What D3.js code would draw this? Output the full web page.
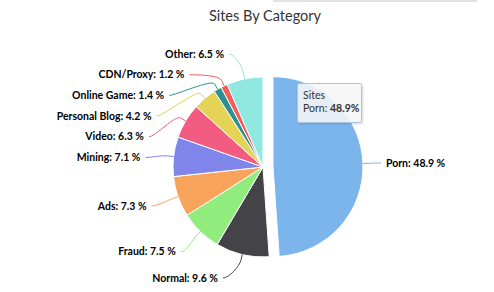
<!DOCTYPE html>
<html>
<head>
<meta charset="utf-8">
<script src="https://cdn.jsdelivr.net/npm/d3@7"></script>
<style>
html,body{margin:0;padding:0;background:#fff;}
svg{display:block;}
</style>
</head>
<body>
<svg id="chart" width="494" height="292"></svg>
<script>
const categories = ["Porn","Normal","Fraud","Ads","Mining","Video","Personal Blog","Online Game","CDN/Proxy","Other"];
const values = [48.9, 9.6, 7.5, 7.3, 7.1, 6.3, 4.2, 1.4, 1.2, 6.5];
const colors = ["#7cb5ec","#434348","#90ed7d","#f7a35c","#8085e9","#f15c80","#e4d354","#2b908f","#f45b5b","#91e8e1"];
const slicedCategory = "Porn";
const seriesName = "Sites";
const title = "Sites By Category";

const W = 494, H = 292;
const cx = 263, cy = 167, r = 90, sliceOffset = 10;
const labelR = 118, labelSpacing = 20.7, labelTop = 54, labelBottom = 278;
const FONT = "Lato, 'Open Sans', sans-serif";

const svg = d3.select("#chart");

// top grey strip
svg.append("line").attr("x1",273).attr("x2",477).attr("y1",1).attr("y2",1)
  .attr("stroke","#e2e2e2").attr("stroke-width",2);

svg.append("text").attr("x",265).attr("y",21).attr("text-anchor","middle")
  .attr("font-family",FONT).attr("font-size",14.5).attr("fill","#333333")
  .text(title);

const data = categories.map((c,i)=>({name:c, value:values[i], color:colors[i]}));
const pie = d3.pie().value(d=>d.value).sort(null).startAngle(0).endAngle(2*Math.PI);
const arcs = pie(data);
const arc = d3.arc().innerRadius(0).outerRadius(r);

function offsetOf(a){
  if (a.data.name !== slicedCategory) return [0,0];
  const m = (a.startAngle + a.endAngle)/2;
  return [sliceOffset*Math.sin(m), -sliceOffset*Math.cos(m)];
}

const g = svg.append("g").attr("transform",`translate(${cx},${cy})`);
g.selectAll("path.slice").data(arcs).enter().append("path")
  .attr("class","slice")
  .attr("d",arc)
  .attr("transform",a=>{const o=offsetOf(a);return `translate(${o[0]},${o[1]})`;})
  .attr("fill",a=>a.data.color)
  .attr("stroke","#ffffff").attr("stroke-width",1).attr("stroke-linejoin","round");

// label layout
const labels = arcs.map(a=>{
  const m = (a.startAngle + a.endAngle)/2;
  return {a, m, right: Math.sin(m) >= 0, y: cy - labelR*Math.cos(m)};
});
["left","right"].forEach(side=>{
  const L = labels.filter(l => (side==="right") === l.right).sort((p,q)=>p.y-q.y);
  for (let i=0;i<L.length;i++){
    let y = Math.max(L[i].y, labelTop);
    if (i>0) y = Math.max(y, L[i-1].y + labelSpacing);
    L[i].y = y;
  }
  for (let i=L.length-1;i>=0;i--){
    let y = Math.min(L[i].y, labelBottom);
    if (i<L.length-1) y = Math.min(y, L[i+1].y - labelSpacing);
    L[i].y = y;
  }
});

labels.forEach(l=>{
  const dy = Math.max(-labelR, Math.min(labelR, l.y - cy));
  const dx = Math.sqrt(labelR*labelR - dy*dy);
  const s = l.right ? 1 : -1;
  const X = cx + s*dx;
  const o = offsetOf(l.a);
  const T = [cx + o[0] + r*Math.sin(l.m), cy + o[1] - r*Math.cos(l.m)];
  const B = [cx + o[0] + (r+6)*Math.sin(l.m), cy + o[1] - (r+6)*Math.cos(l.m)];
  const C2 = [2*B[0]-T[0], 2*B[1]-T[1]];
  const path = `M${X},${l.y} C${X - s*6},${l.y} ${C2[0]},${C2[1]} ${B[0]},${B[1]} L${T[0]},${T[1]}`;
  svg.append("path").attr("d",path).attr("fill","none")
    .attr("stroke",l.a.data.color).attr("stroke-width",1);
  svg.append("text")
    .attr("x", X + s*5).attr("y", l.y).attr("dy","0.35em")
    .attr("text-anchor", l.right ? "start" : "end")
    .attr("font-family",FONT).attr("font-size",10.5).attr("font-weight","bold")
    .attr("fill","#000000")
    .text(`${l.a.data.name}: ${d3.format(".1f")(l.a.data.value)} %`);
});

// tooltip
const pornIdx = categories.indexOf(slicedCategory);
const tx = cx + 34, ty = cy - 84, tw = 64, th = 39;
const defs = svg.append("defs");
const f = defs.append("filter").attr("id","sh").attr("x","-20%").attr("y","-20%").attr("width","150%").attr("height","150%");
f.append("feDropShadow").attr("dx",1).attr("dy",1).attr("stdDeviation",1.2).attr("flood-color","#000").attr("flood-opacity",0.18);
svg.append("rect").attr("x",tx+0.5).attr("y",ty+0.5).attr("width",tw).attr("height",th)
  .attr("rx",2).attr("fill","rgba(249,249,249,0.85)")
  .attr("stroke","#a9c4de").attr("stroke-width",1).attr("filter","url(#sh)");
svg.append("text").attr("x",tx+6).attr("y",ty+16)
  .attr("font-family",FONT).attr("font-size",10.5).attr("fill","#333")
  .text(seriesName);
const t2 = svg.append("text").attr("x",tx+6).attr("y",ty+29)
  .attr("font-family",FONT).attr("font-size",10.5).attr("fill","#333");
t2.append("tspan").text(categories[pornIdx] + ": ");
t2.append("tspan").attr("font-weight","bold").text(d3.format(".1f")(values[pornIdx]) + "%");
</script>
</body>
</html>
